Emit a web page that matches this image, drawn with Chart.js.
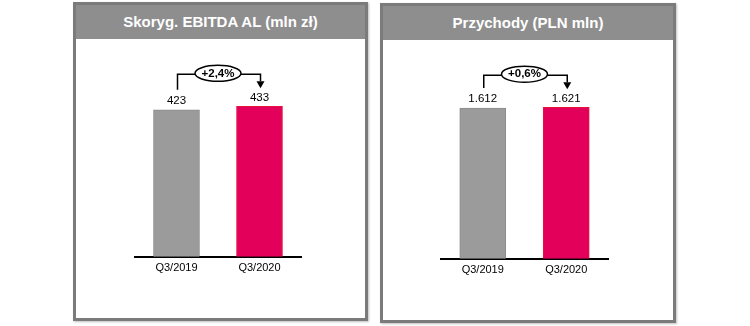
<!DOCTYPE html>
<html>
<head>
<meta charset="utf-8">
<script src="https://cdn.jsdelivr.net/npm/chart.js@4.4.1/dist/chart.umd.min.js"></script>
<style>
	body { margin: 0; background: #fff; width: 750px; height: 326px; position: relative; overflow: hidden; font-family: "Liberation Sans", Arial, sans-serif; }
	.panel { position: absolute; box-sizing: border-box; border: 3px solid #7b7b7b; background: #fff; box-shadow: 1px 1px 2px rgba(0,0,0,0.25); }
	.panel .head { height: 34px; background: #8e8e8e; color: #fff; font-weight: bold; font-size: 15px; text-align: center; line-height: 34px; }
	canvas { position: absolute; }
</style>
</head>
<body>

<div class="panel" style="left:73px; top:2px; width:295px; height:319px;">
	<div class="head">Skoryg. EBITDA AL (mln zł)</div>
</div>
<div class="panel" style="left:380px; top:3px; width:296px; height:320px;">
	<div class="head">Przychody (PLN mln)</div>
</div>

<canvas id="ebitdaChart" width="289" height="278" style="left:76px; top:40px;"></canvas>
<canvas id="revenueChart" width="289" height="279" style="left:384px; top:40px;"></canvas>

<script>
// dane z wykresu
const quarters = ['Q3/2019', 'Q3/2020'];
const ebitda = [423, 433];
const revenue = [1612, 1621];

const barColors = ['#9b9b9b', '#e2005a'];
const barBorders = ['#8c8c8c', '#e8123a'];

// 1612 -> "1.612"
function fmtPL(v) {
	return String(v).replace(/\B(?=(\d{3})+(?!\d))/g, '.');
}

// etykiety nad slupkami + strzalka ze zmiana %
const bracketPlugin = {
	id: 'bracket',
	afterDatasetsDraw(chart) {
		const ctx = chart.ctx;
		const meta = chart.getDatasetMeta(0);
		const vals = chart.data.datasets[0].data;
		const b0 = meta.data[0], b1 = meta.data[1];

		ctx.save();
		ctx.fillStyle = '#000';
		ctx.font = '11.5px "Liberation Sans", Arial, sans-serif';
		ctx.textAlign = 'center';
		ctx.textBaseline = 'bottom';
		meta.data.forEach(function (bar, i) {
			ctx.fillText(fmtPL(vals[i]), bar.x, bar.y - 3);
		});

		const topY = Math.min(b0.y, b1.y) - 32;
		ctx.strokeStyle = '#000';
		ctx.lineWidth = 1.5;
		ctx.beginPath();
		ctx.moveTo(b0.x + 1, b0.y - 20);
		ctx.lineTo(b0.x + 1, topY);
		ctx.lineTo(b1.x + 1, topY);
		ctx.lineTo(b1.x + 1, b1.y - 25);
		ctx.stroke();

		// grot strzalki
		ctx.beginPath();
		ctx.moveTo(b1.x + 1 - 4, b1.y - 25);
		ctx.lineTo(b1.x + 1 + 4, b1.y - 25);
		ctx.lineTo(b1.x + 1, b1.y - 18);
		ctx.closePath();
		ctx.fill();

		// elipsa z procentem
		const cx = (b0.x + b1.x) / 2;
		ctx.beginPath();
		ctx.ellipse(cx, topY - 1, 23, 8, 0, 0, Math.PI * 2);
		ctx.fillStyle = '#fff';
		ctx.fill();
		ctx.stroke();

		const pct = ((vals[1] / vals[0] - 1) * 100).toFixed(1).replace('.', ',');
		ctx.fillStyle = '#000';
		ctx.font = 'bold 11.5px "Liberation Sans", Arial, sans-serif';
		ctx.textBaseline = 'middle';
		ctx.fillText('+' + pct + '%', cx, topY - 1);
		ctx.restore();
	}
};

function barchart(id, values, yMax, pad) {

	const data = {
		labels: quarters,
		datasets: [
			{
				data: values,
				backgroundColor: barColors,
				borderColor: barBorders,
				borderWidth: 1,
				barThickness: 46
			}
		]
	};

	const config = {
		type: 'bar',
		data,
		options: {
			responsive: false,
			animation: false,
			layout: { padding: pad },
			plugins: {
				legend: { display: false },
				tooltip: { enabled: false }
			},
			scales: {
				x: {
					grid: { display: false, drawTicks: false },
					border: { display: true, color: '#000', width: 2 },
					ticks: {
						color: '#000',
						padding: 5,
						font: { family: '"Liberation Sans", Arial, sans-serif', size: 11 }
					}
				},
				y: {
					display: false,
					min: 0,
					max: yMax
				}
			}
		},
		plugins: [bracketPlugin]
	};

	const myChart = new Chart(
		document.getElementById(id),
		config
	);
}

barchart('ebitdaChart', ebitda, 624, { left: 59, right: 64, top: 0, bottom: 38 });
barchart('revenueChart', revenue, 2340, { left: 57, right: 65, top: 0, bottom: 37 });
</script>
</body>
</html>
